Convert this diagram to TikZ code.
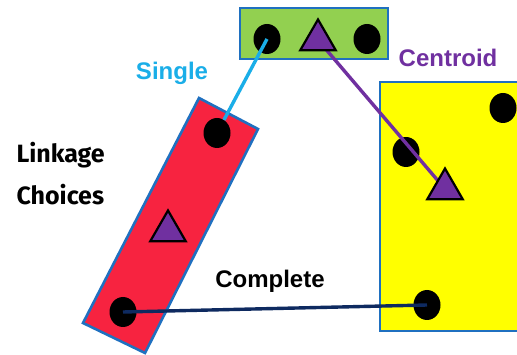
\documentclass[tikz,border=0pt]{standalone}
\usepackage{fontspec}
\usetikzlibrary{shapes.geometric}
\newfontfamily\labfont{Liberation Sans}
\newfontfamily\handfont{Fira Sans}
\definecolor{boxblue}{HTML}{1F70C0}
\definecolor{grn}{HTML}{92D050}
\definecolor{redbox}{HTML}{F72340}
\definecolor{yel}{HTML}{FFFF00}
\definecolor{purp}{HTML}{7030A0}
\definecolor{cyanl}{HTML}{1AAEE8}
\definecolor{navy}{HTML}{0E2A60}
\begin{document}
\begin{tikzpicture}[x=1pt,y=-1pt,
  clusterbox/.style={draw=boxblue,line width=2.6pt},
  pt/.style={ellipse,fill=black,inner sep=0pt,minimum width=27pt,minimum height=30pt},
  cent/.style={regular polygon,regular polygon sides=3,draw=black,line width=2.2pt,fill=purp,inner sep=0pt,minimum size=41pt},
  lab/.style={font=\labfont\bfseries\fontsize{24}{27}\selectfont,anchor=base},
  link/.style={line width=3.4pt}]
\useasboundingbox[fill=white] (0,0) rectangle (517,355);
% clusters
\draw[clusterbox,fill=grn] (240,8) rectangle (388,59);
\draw[clusterbox,fill=yel] (380,82) rectangle (530,331);
\draw[clusterbox,fill=redbox] (199,98) -- (258,129) -- (145,353) -- (83,323) -- cycle;
% points
\node[pt] (g1) at (267,39) {};
\node[pt] (g3) at (367,39) {};
\node[pt] (r1) at (217,133) {};
\node[pt] (r3) at (123,312) {};
\node[pt] (y1) at (503,108) {};
\node[pt] (y2) at (406,152) {};
\node[pt] (y3) at (427,305) {};
% connectors
\draw[link,cyanl] (g1.center) -- (r1);
\draw[link,purp] (318,40) -- (445,189);
\draw[link,navy] (r3.center) -- (y3.center);
% centroids
\node[cent] (gt) at (318,40) {};
\node[cent] (rt) at (168,231) {};
\node[cent] (yt) at (445,189) {};
% labels
\node[lab,text=cyanl] (single) at (172,80) {Single};
\node[lab,text=purp] (centroid) at (448,67) {Centroid};
\node[lab,text=black] (complete) at (270,288) {Complete};
\node[font=\handfont\bfseries\fontsize{25}{28}\selectfont,anchor=base west] (l1) at (13,163) {Linkage};
\node[font=\handfont\bfseries\fontsize{25}{28}\selectfont,anchor=base west] (l2) at (13,205) {Choices};
\end{tikzpicture}
\end{document}
